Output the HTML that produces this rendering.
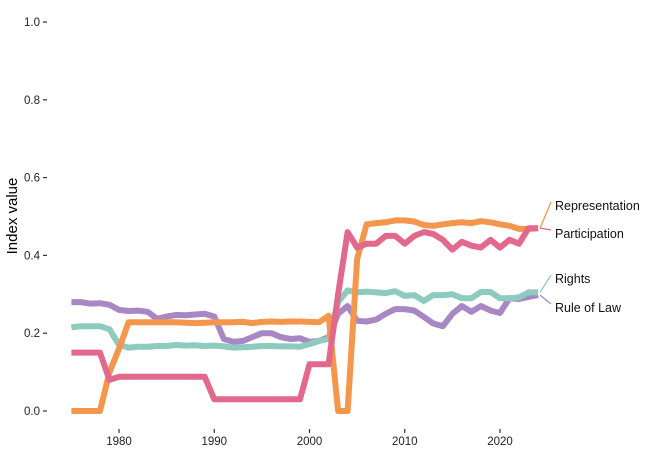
<!DOCTYPE html>
<html><head><meta charset="utf-8"><style>
html,body{margin:0;padding:0;background:#fff;}
svg{display:block;font-family:"Liberation Sans",Arial,sans-serif;}
</style></head><body>
<svg id="chart" width="668" height="472" viewBox="0 0 668 472">
<g id="axes"></g><g id="series"></g><g id="labels"></g>
<text transform="translate(17,216) rotate(-90)" text-anchor="middle" font-size="15" fill="#000">Index value</text>
</svg>
<script>
const years = [];
for (let y = 1975; y <= 2024; y++) years.push(y);
const representation = [0,0,0,0,0.10,0.16,0.228,0.228,0.228,0.228,0.228,0.228,0.227,0.226,0.227,0.228,0.228,0.228,0.229,0.226,0.229,0.23,0.229,0.23,0.23,0.229,0.228,0.245,0,0,0.39,0.48,0.483,0.485,0.49,0.49,0.487,0.478,0.476,0.48,0.483,0.485,0.483,0.488,0.485,0.48,0.476,0.468,0.468,0.47];
const participation = [0.15,0.15,0.15,0.15,0.08,0.088,0.088,0.088,0.088,0.088,0.088,0.088,0.088,0.088,0.088,0.03,0.03,0.03,0.03,0.03,0.03,0.03,0.03,0.03,0.03,0.12,0.12,0.12,0.3,0.46,0.42,0.43,0.43,0.45,0.45,0.43,0.45,0.46,0.455,0.44,0.415,0.435,0.425,0.42,0.44,0.42,0.44,0.43,0.47,0.47];
const rights = [0.215,0.218,0.218,0.218,0.21,0.17,0.163,0.165,0.165,0.167,0.167,0.17,0.168,0.169,0.167,0.168,0.166,0.163,0.164,0.165,0.167,0.167,0.166,0.166,0.165,0.172,0.18,0.185,0.28,0.31,0.305,0.307,0.305,0.303,0.308,0.296,0.298,0.283,0.298,0.298,0.3,0.29,0.29,0.306,0.306,0.29,0.29,0.292,0.305,0.305];
const ruleOfLaw = [0.28,0.28,0.276,0.277,0.273,0.26,0.257,0.258,0.255,0.237,0.243,0.247,0.246,0.248,0.25,0.243,0.185,0.178,0.18,0.19,0.2,0.2,0.19,0.185,0.187,0.178,0.18,0.19,0.25,0.27,0.232,0.23,0.235,0.25,0.262,0.262,0.258,0.242,0.225,0.218,0.25,0.27,0.255,0.27,0.258,0.252,0.29,0.288,0.293,0.298];
const seriesNames = ["Representation","Participation","Rights","Rule of Law"];
const yTicks = [0,0.2,0.4,0.6,0.8,1.0];
const xTicks = [1980,1990,2000,2010,2020];

const NS="http://www.w3.org/2000/svg";
const x = yr => 119 + (yr-1980)*9.525;
const y = v => 411 - 389*v;
function mk(tag, attrs, parent){const e=document.createElementNS(NS,tag);for(const k in attrs)e.setAttribute(k,attrs[k]);parent.appendChild(e);return e;}
const axes=document.getElementById('axes'), sg=document.getElementById('series'), lg=document.getElementById('labels');

yTicks.forEach(t=>{
  const l=mk('line',{x1:43,x2:47,y1:y(t),y2:y(t),stroke:'#333','stroke-width':1.2},axes);
  
  
  const tx=mk('text',{x:40,y:y(t)+4,'text-anchor':'end','font-size':11.5,fill:'#222'},axes);
  tx.textContent=t.toFixed(1);
  
  
});
xTicks.forEach(t=>{
  const l=mk('line',{x1:x(t),x2:x(t),y1:429,y2:433,stroke:'#333','stroke-width':1.2},axes);
  
  
  const tx=mk('text',{x:x(t),y:445,'text-anchor':'middle','font-size':11.5,fill:'#222'},axes);
  tx.textContent=t;
  
  
});

const data=[representation,participation,rights,ruleOfLaw];
const colors=["#f4964b","#e2688c","#8ccbbe","#a888c4"];
const labelY=[206,234,279,308];
const order=[3,2,0,1];
order.forEach(i=>{
  const d=data[i].map((v,j)=>(j?'L':'M')+x(years[j]).toFixed(1)+','+y(v).toFixed(1)).join('');
  const p=mk('path',{d:d,fill:'none',stroke:colors[i],'stroke-width':6,'stroke-linejoin':'round'},sg);
  
  
});
seriesNames.forEach((n,i)=>{
  const last=data[i][data[i].length-1];
  const ex=x(years[years.length-1]), ey=y(last);
  const c=mk('line',{x1:ex+2,y1:ey,x2:551,y2:labelY[i]-4,stroke:colors[i],'stroke-width':1.3},lg);
  
  
  const t=mk('text',{x:555,y:labelY[i]+4,'font-size':12.5,fill:'#111'},lg);
  t.textContent=n;
  
  
});
</script>
</body></html>
